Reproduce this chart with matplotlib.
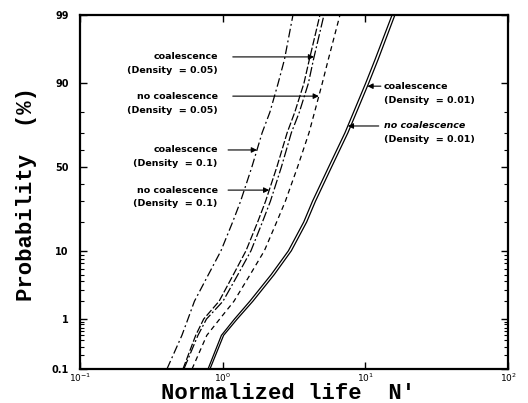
import math

import numpy as np
import matplotlib
matplotlib.use("Agg")
from matplotlib import pyplot as plt
from matplotlib.ticker import NullLocator

# cumulative probability (%) at which the life values were read
prob = [0.1, 0.5, 1, 2, 5, 10, 20, 30, 50, 70, 80, 90, 95, 99]

life_coal_01 = [0.407, 0.518, 0.571, 0.634, 0.795, 0.973, 1.175, 1.335, 1.602, 1.891, 2.145, 2.448, 2.711, 3.11]
life_nocoal_01 = [0.527, 0.647, 0.736, 0.944, 1.190, 1.457, 1.759, 1.998, 2.398, 2.831, 3.206, 3.713, 4.052, 4.807]
life_coal_005 = [0.535, 0.671, 0.770, 1.005, 1.28, 1.579, 1.90, 2.16, 2.58, 3.03, 3.45, 3.99, 4.33, 5.13]
life_nocoal_005 = [0.610, 0.774, 0.953, 1.20, 1.56, 1.96, 2.39, 2.75, 3.35, 4.03, 4.41, 4.99, 5.50, 6.64]
life_coal_001 = [0.815, 1.015, 1.264, 1.628, 2.30, 3.03, 3.88, 4.47, 5.80, 7.55, 8.69, 10.55, 12.29, 16.12]
life_nocoal_001 = [0.79, 0.98, 1.21, 1.55, 2.19, 2.89, 3.70, 4.26, 5.53, 7.20, 8.28, 10.05, 11.7, 15.4]

yticks = [0.1, 1, 10, 50, 90, 99]
yticklabels = ["0.1", "1", "10", "50", "90", "99"]
yminor = [0.2, 0.3, 0.4, 0.5, 0.6, 0.7, 0.8, 0.9, 2, 3, 4, 5, 6, 7, 8, 9,
          20, 30, 40, 60, 70, 80]

erf = np.vectorize(math.erf, otypes=[float])


def cdf(z):
    return 50.0 * (1.0 + erf(np.asarray(z, float) / math.sqrt(2.0)))


def ppf(p):
    # normal probability paper: percent -> z by bisection
    p = np.clip(np.asarray(p, float), 1e-9, 100 - 1e-9)
    lo = np.full_like(p, -8.0)
    hi = np.full_like(p, 8.0)
    for _ in range(50):
        mid = 0.5 * (lo + hi)
        below = cdf(mid) < p
        lo = np.where(below, mid, lo)
        hi = np.where(below, hi, mid)
    return 0.5 * (lo + hi)


def life_at(life, p):
    return 10 ** np.interp(ppf(p), ppf(prob), np.log10(life))


fig = plt.figure(figsize=(5.28, 4.03), dpi=100)
ax = fig.add_axes([0.1515, 0.0844, 0.8106, 0.8784])

dashdot = (0, (7, 2.5, 1.5, 2.5))
curves = [
    (life_coal_01, dashdot),
    (life_nocoal_01, (0, (6, 1.8))),
    (life_coal_005, (0, (8, 2, 1.5, 2))),
    (life_nocoal_005, (0, (4, 3))),
    (life_coal_001, "-"),
    (life_nocoal_001, "-"),
]
for life, ls in curves:
    ax.plot(life, prob, color="k", lw=0.9, ls=ls)

ax.set_xscale("log")
ax.set_xlim(0.1, 100)
ax.xaxis.set_minor_locator(NullLocator())
ax.set_yscale("function", functions=(ppf, cdf))
ax.set_ylim(0.1, 99)
ax.set_yticks(yticks, labels=yticklabels)
ax.set_yticks(yminor, minor=True)

ax.tick_params(which="both", direction="in", top=True, right=True)
ax.tick_params(which="major", length=5, width=1, labelsize=7)
ax.tick_params(axis="y", which="major", pad=8)
ax.tick_params(axis="x", which="major", labelsize=6.5, pad=2)
ax.tick_params(which="minor", length=3, width=0.8)
for lab in ax.get_yticklabels():
    lab.set_fontweight("bold")
for sp in ax.spines.values():
    sp.set_linewidth(1.6)

mono = dict(family="Liberation Mono", weight="bold", fontsize=16)
ax.set_xlabel("Normalized life  N'", va="baseline", **mono)
ax.set_ylabel("Probability  (%)", **mono)
ax.xaxis.set_label_coords(0.486, -0.086)
ax.yaxis.set_label_coords(-0.10, 0.494)

# annotations: (line 1, line 2, curve, probability of arrow, text x, arrow start x, side, italic)
notes = [
    ("coalescence", "(Density  = 0.05)", life_coal_005, 95.4, 0.322, 0.357, "left", False),
    ("no coalescence", "(Density  = 0.05)", life_nocoal_005, 86.1, 0.322, 0.357, "left", False),
    ("coalescence", "(Density  = 0.1)", life_coal_01, 60.3, 0.322, 0.346, "left", False),
    ("no coalescence", "(Density  = 0.1)", life_nocoal_01, 36.2, 0.322, 0.346, "left", False),
    ("coalescence", "(Density  = 0.01)", life_coal_001, 89.2, 0.710, 0.703, "right", False),
    ("no coalescence", "(Density  = 0.01)", life_nocoal_001, 73.5, 0.710, 0.698, "right", True),
]
trans = ax.get_yaxis_transform()
for line1, line2, life, p, tx, ax0, side, ital in notes:
    tip = float(life_at(life, p))
    ax.annotate("", xy=(tip, p), xycoords="data", xytext=(ax0, p), textcoords=trans,
                arrowprops=dict(arrowstyle="-|>", color="k", lw=0.8,
                                shrinkA=0, shrinkB=0, mutation_scale=8))
    ha = "right" if side == "left" else "left"
    ax.annotate(line1, xy=(tx, p), xycoords=trans, xytext=(0, 0), textcoords="offset points",
                ha=ha, va="center", fontsize=6.8, weight="bold",
                style="italic" if ital else "normal")
    ax.annotate(line2, xy=(tx, p), xycoords=trans, xytext=(0, -10), textcoords="offset points",
                ha=ha, va="center", fontsize=6.8, weight="bold")

fig.savefig("out.png", dpi=100)
